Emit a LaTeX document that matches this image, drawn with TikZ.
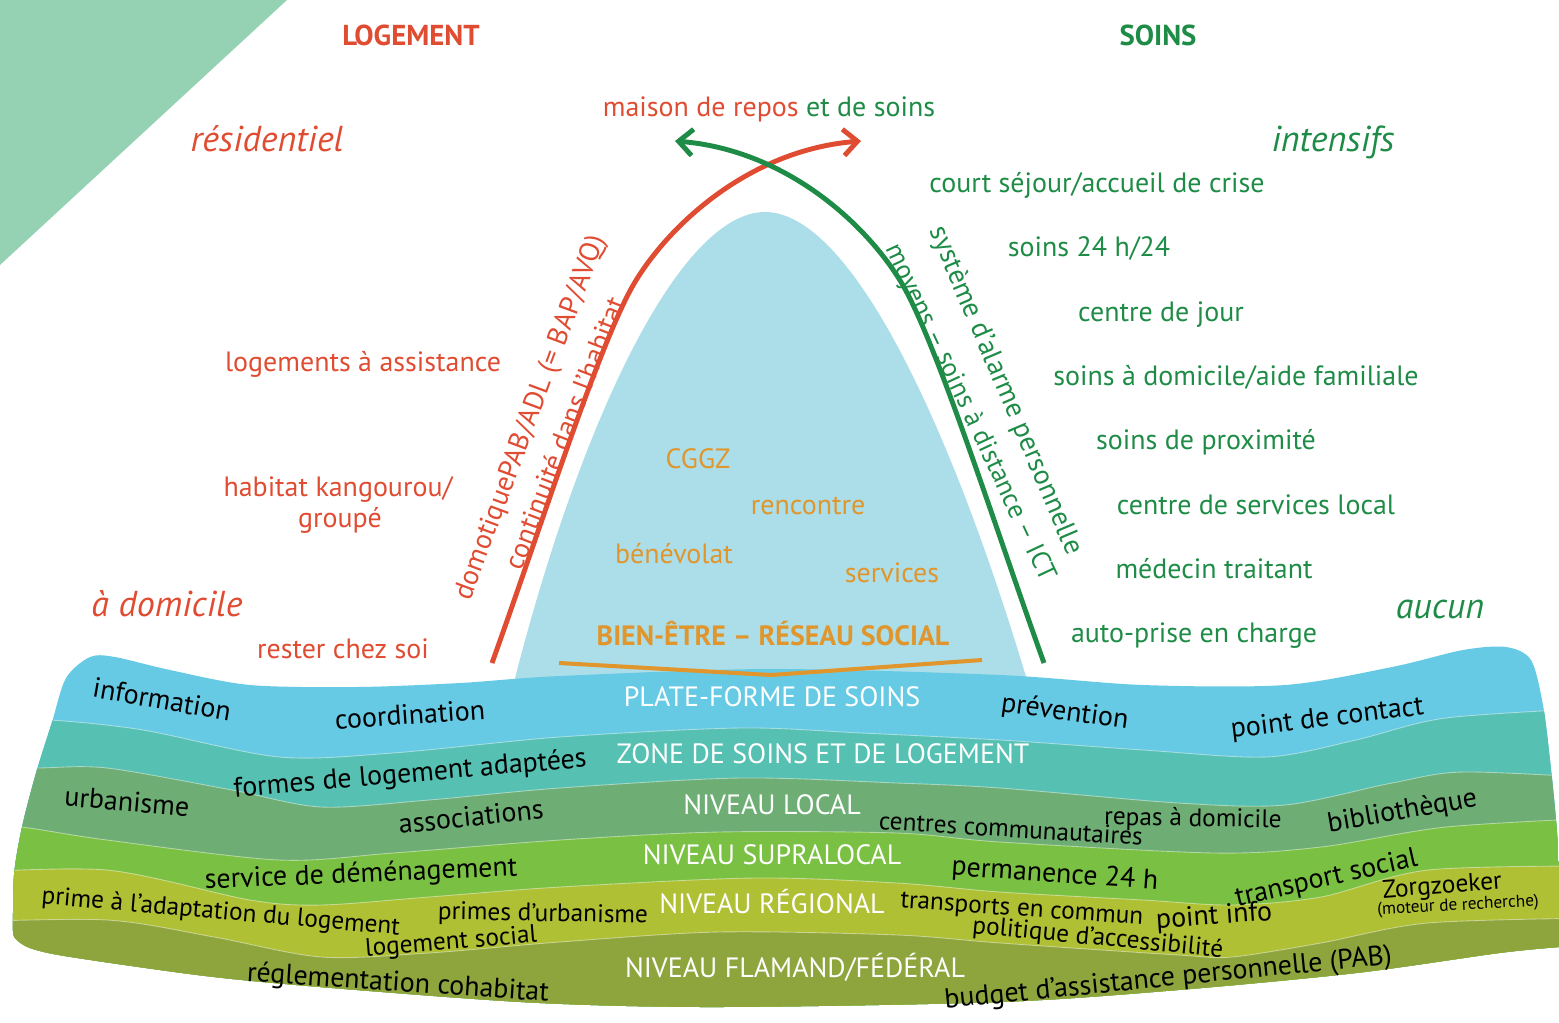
\documentclass[tikz,border=0pt]{standalone}
\usepackage{fontspec}
\setmainfont{PT Sans}
\usetikzlibrary{arrows.meta}
\definecolor{logred}{HTML}{E04C32}
\definecolor{caregreen}{HTML}{1E8C46}
\definecolor{wellorange}{HTML}{E0962D}
\definecolor{mint}{HTML}{95D2B4}
\definecolor{bellblue}{HTML}{ABDEE8}
\definecolor{platcol}{HTML}{67CAE4}
\definecolor{zonecol}{HTML}{56C0B2}
\definecolor{localcol}{HTML}{6EAE74}
\definecolor{supracol}{HTML}{7AC042}
\definecolor{regiocol}{HTML}{AFC034}
\definecolor{federcol}{HTML}{8EA43C}
\newcommand{\txtsize}{\fontsize{15.9}{18}\selectfont}
\newcommand{\smalltxt}{\fontsize{14.4}{16}\selectfont}
\newcommand{\italsize}{\fontsize{20.5}{23}\selectfont\itshape}

\begin{document}
\begin{tikzpicture}[x=0.02cm,y=-0.02cm,
    every node/.style={inner sep=0pt,text height=12pt,text depth=1.5pt},
    redtxt/.style={text=logred,font=\txtsize},
    greentxt/.style={text=caregreen,font=\txtsize},
    orangetxt/.style={text=wellorange,font=\txtsize},
    headtxt/.style={font=\fontsize{16.4}{18}\selectfont\bfseries},
    italtxt/.style={font=\italsize,text height=15pt},
    levellbl/.style={text=white,font=\txtsize},
    bandlbl/.style={text=black,font=\txtsize},
    seam/.style={draw=white,draw opacity=.45,line width=.5pt},
    careline/.style={line width=2.8pt,-{Straight Barb[length=8pt,width=15pt]}}]
\useasboundingbox (0,0) rectangle (1559,1022);
\fill[mint] (0,0) -- (287,0) -- (0,265) -- cycle;

\node[headtxt,text=logred] (logement) at (411,36) {LOGEMENT};
\node[headtxt,text=caregreen] (soins) at (1158,36) {SOINS};
\node[italtxt,text=logred] (resid) at (267,140) {résidentiel};
\node[italtxt,text=caregreen] (intens) at (1333,140) {intensifs};
\node[italtxt,text=logred] (adom) at (167,605) {à domicile};
\node[italtxt,text=caregreen] (aucun) at (1440,607) {aucun};
\node[redtxt] (mrs) at (769,107) {maison de repos \textcolor{caregreen}{et de soins}};

% dome
\fill[bellblue] (512,690) .. controls (580,420) and (680,212) .. (765,212)
  .. controls (850,212) and (950,420) .. (1030,690) -- cycle;
\node[orangetxt] (cggz) at (698,459) {CGGZ};
\node[orangetxt] (rencontre) at (808,505) {rencontre};
\node[orangetxt] (benevolat) at (674,554) {bénévolat};
\node[orangetxt] (services) at (892,573) {services};
\node[orangetxt,font=\txtsize\bfseries] (bienetre) at (773,636) {BIEN-ÊTRE – RÉSEAU SOCIAL};

% bands
\begin{scope}
\clip plot[smooth] coordinates {(13,930) (14,875) (22,827) (36,773) (52,722) (66,678) (90,657) (115,657) (170,670) (250,685) (357,687) (460,683) (560,676) (770,669) (1000,675) (1143,685) (1285,685) (1392,667) (1463,650) (1506,647) (1531,660) (1543,705) (1550,760) (1556,820) (1559,870) (1559,947)}
  -- plot[smooth] coordinates {(1559,947) (1499,953) (1356,973) (1178,990) (1000,1002) (719,1007) (540,1003) (357,990) (214,977) (71,957) (30,948) (15,938) (13,930)} -- cycle;
\fill[platcol] (-50,600) rectangle (1600,1100);
\filldraw[fill=zonecol,seam] plot[smooth] coordinates {(-40,718) (50,720) (143,730) (279,757) (393,753) (560,737) (740,728) (861,733) (1000,740) (1143,750) (1267,757) (1356,740) (1446,718) (1600,708)} -- (1600,1100) -- (-40,1100) -- cycle;
\filldraw[fill=localcol,seam] plot[smooth] coordinates {(-40,768) (36,768) (107,768) (232,790) (321,807) (429,800) (560,788) (740,778) (897,783) (1000,788) (1178,803) (1285,805) (1392,783) (1463,772) (1600,778)} -- (1600,1100) -- (-40,1100) -- cycle;
\filldraw[fill=supracol,seam] plot[smooth] coordinates {(-40,824) (21,827) (107,840) (279,860) (393,853) (560,840) (719,832) (897,833) (1000,842) (1214,853) (1321,847) (1446,827) (1600,818)} -- (1600,1100) -- (-40,1100) -- cycle;
\filldraw[fill=regiocol,seam] plot[smooth] coordinates {(-40,873) (107,870) (250,900) (321,905) (429,897) (560,887) (754,878) (897,883) (1000,892) (1143,900) (1232,905) (1321,897) (1428,870) (1600,866)} -- (1600,1100) -- (-40,1100) -- cycle;
\filldraw[fill=federcol,seam] plot[smooth] coordinates {(-40,922) (107,920) (214,937) (321,957) (429,953) (560,942) (719,932) (897,935) (1000,943) (1178,955) (1232,957) (1321,943) (1428,923) (1600,918)} -- (1600,1100) -- (-40,1100) -- cycle;
\end{scope}
\draw[wellorange,line width=2.3pt] (559,663) -- (771,675) -- (982,660);

% housing side
\node[redtxt] (assist) at (363,362) {logements à assistance};
\node[redtxt] (kangou) at (338,487) {habitat kangourou/};
\node[redtxt] (groupe) at (340,518) {groupé};
\node[redtxt] (chezsoi) at (343,649) {rester chez soi};
\node[redtxt,rotate=69.6] (domotique) at (529,417) {domotiquePAB/ADL (= BAP/AVQ)};
\node[redtxt,rotate=69] (continuite) at (565,433) {continuité dans l’habitat};

% care side
\node[greentxt] (court) at (1097,183) {court séjour/accueil de crise};
\node[greentxt] (h24) at (1089,247) {soins 24 h/24};
\node[greentxt] (cjour) at (1161,312) {centre de jour};
\node[greentxt] (domicile) at (1236,376) {soins à domicile/aide familiale};
\node[greentxt] (proxi) at (1206,440) {soins de proximité};
\node[greentxt] (cslocal) at (1256,505) {centre de services local};
\node[greentxt] (medecin) at (1214,569) {médecin traitant};
\node[greentxt] (autoprise) at (1194,633) {auto-prise en charge};
\node[greentxt,rotate=-65,font=\fontsize{15.2}{17}\selectfont] (moyens) at (972,412) {moyens – soins à distance – ICT};
\node[greentxt,rotate=-67] (alarme) at (1007,390) {système d’alarme personnelle};

\coordinate (redfoot) at (492,663);
\coordinate (redtip) at (861,141);
\coordinate (greenfoot) at (1044,663);
\coordinate (greentip) at (675,141);
\draw[careline,logred] (redfoot) .. controls (540,530) and (600,340) .. (635,282)
  .. controls (670,224) and (750,150) .. (redtip);
\draw[careline,caregreen] (greenfoot) .. controls (996,530) and (936,340) .. (901,282)
  .. controls (866,224) and (786,150) .. (greentip);

% level names
\node[levellbl] (plate) at (772,697) {PLATE-FORME DE SOINS};
\node[levellbl] (zone) at (823,754) {ZONE DE SOINS ET DE LOGEMENT};
\node[levellbl] (local) at (772,805) {NIVEAU LOCAL};
\node[levellbl] (supra) at (772,855) {NIVEAU SUPRALOCAL};
\node[levellbl] (regio) at (772,904) {NIVEAU RÉGIONAL};
\node[levellbl] (feder) at (795,968) {NIVEAU FLAMAND/FÉDÉRAL};

% band items
\node[bandlbl,rotate=-10] (info) at (162,700) {information};
\node[bandlbl,rotate=4] (coord) at (410,715) {coordination};
\node[bandlbl,rotate=-8] (prev) at (1065,711) {prévention};
\node[bandlbl,rotate=7] (contact) at (1327,717) {point de contact};
\node[bandlbl,rotate=5] (formes) at (410,773) {formes de logement adaptées};
\node[bandlbl,rotate=-5] (urba) at (127,802) {urbanisme};
\node[bandlbl,rotate=6] (assoc) at (471,817) {associations};
\node[bandlbl,rotate=-3.5,font=\smalltxt] (centres) at (1011,828) {centres communautaires};
\node[bandlbl,rotate=-1,font=\smalltxt] (repas) at (1193,817) {repas à domicile};
\node[bandlbl,rotate=10] (biblio) at (1402,810) {bibliothèque};
\node[bandlbl,rotate=2.4] (demenag) at (361,873) {service de déménagement};
\node[bandlbl,rotate=-4] (perman) at (1055,873) {permanence 24 h};
\node[bandlbl,rotate=12.7] (transoc) at (1326,877) {transport social};
\node[bandlbl,rotate=-5,font=\smalltxt] (prime) at (221,910) {prime à l’adaptation du logement};
\node[bandlbl,rotate=-1,font=\smalltxt] (primes) at (543,912) {primes d’urbanisme};
\node[bandlbl,rotate=4.7,font=\smalltxt] (logsoc) at (451,940) {logement social};
\node[bandlbl,rotate=-4,font=\smalltxt] (transcom) at (1022,907) {transports en commun};
\node[bandlbl,rotate=-5.5,font=\smalltxt] (politique) at (1098,936) {politique d’accessibilité};
\node[bandlbl,rotate=4] (pinfo) at (1214,915) {point info};
\node[bandlbl,rotate=4.5,font=\fontsize{14.5}{16}\selectfont,text height=11pt] (zorg) at (1442,885) {Zorgzoeker};
\node[bandlbl,rotate=3,font=\fontsize{9.8}{11}\selectfont,text height=7.5pt] (moteur) at (1458,905) {(moteur de recherche)};
\node[bandlbl,rotate=-3.8] (cohab) at (398,982) {réglementation cohabitat};
\node[bandlbl,rotate=5.7] (pab) at (1168,977) {budget d’assistance personnelle (PAB)};
\end{tikzpicture}
\end{document}
